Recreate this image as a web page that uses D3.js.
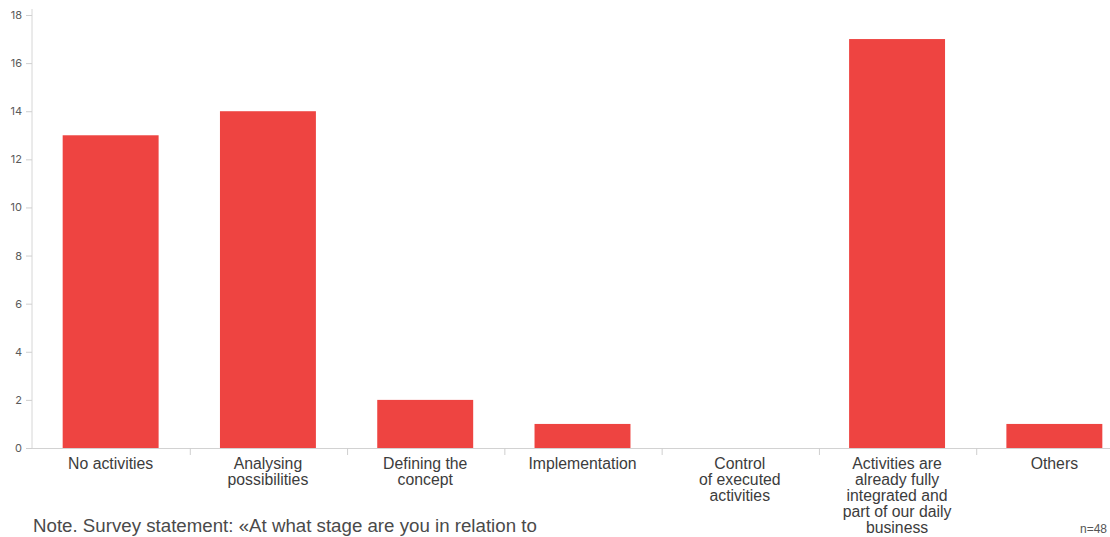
<!DOCTYPE html>
<html>
<head>
<meta charset="utf-8">
<script src="https://cdn.jsdelivr.net/npm/d3@7"></script>
<style>
  html, body { margin: 0; padding: 0; background: #fff; overflow: hidden; }
  svg { display: block; font-family: "Liberation Sans", Arial, sans-serif; }
</style>
</head>
<body>
<svg id="chart" width="1110" height="537"></svg>
<script>
// Survey responses per stage
const categories = [
  ["No activities"],
  ["Analysing", "possibilities"],
  ["Defining the", "concept"],
  ["Implementation"],
  ["Control", "of executed", "activities"],
  ["Activities are", "already fully", "integrated and", "part of our daily", "business"],
  ["Others"]
];
const counts = [13, 14, 2, 1, 0, 17, 1];
const yTicks = [0, 2, 4, 6, 8, 10, 12, 14, 16, 18];
const noteText = "Note. Survey statement: «At what stage are you in relation to";
const sampleText = "n=48";

const svg = d3.select("#chart");
const W = 1110, H = 537;
const x0 = 32, yBase = 448, yTop = 15;

const x = d3.scaleBand()
  .domain(d3.range(categories.length))
  .range([x0, 1133])
  .paddingInner(0.39)
  .paddingOuter(0.195);

const y = d3.scaleLinear().domain([0, 18]).range([yBase, yTop]);

// y axis
const yAxis = svg.append("g")
  .attr("transform", `translate(${x0},0)`)
  .call(d3.axisLeft(y).tickValues(yTicks).tickSize(6).tickPadding(4));
yAxis.select(".domain").attr("stroke", "#d6d6d6").attr("d", `M0,${yTop - 6}V${yBase}`);
yAxis.selectAll(".tick line").attr("stroke", "#cfcfcf");
yAxis.selectAll(".tick text")
  .attr("fill", "#5a5a5a")
  .style("font-size", "11px")
  .style("font-family", "Inter, 'Liberation Sans', sans-serif");

// bars
svg.append("g").selectAll("rect")
  .data(counts)
  .join("rect")
  .attr("x", (d, i) => x(i))
  .attr("y", d => y(d))
  .attr("width", x.bandwidth())
  .attr("height", d => yBase - y(d))
  .attr("fill", "#ee4441");

// x axis baseline
svg.append("line")
  .attr("x1", x0).attr("x2", W)
  .attr("y1", yBase + 0.5).attr("y2", yBase + 0.5)
  .attr("stroke", "#d2d2d2");

// separators between categories
const seps = d3.range(1, categories.length).map(i => (x(i - 1) + x.bandwidth() + x(i)) / 2 + 1);
svg.append("g").selectAll("line")
  .data(seps)
  .join("line")
  .attr("x1", d => d).attr("x2", d => d)
  .attr("y1", yBase).attr("y2", yBase + 7)
  .attr("stroke", "#cfcfcf");

// category labels
const labels = svg.append("g")
  .selectAll("text")
  .data(categories)
  .join("text")
  .attr("x", (d, i) => x(i) + x.bandwidth() / 2)
  .attr("y", yBase + 21)
  .attr("text-anchor", "middle")
  .attr("fill", "#3c3c3c")
  .style("font-size", "15.8px");
labels.selectAll("tspan")
  .data(d => d)
  .join("tspan")
  .attr("x", function () { return d3.select(this.parentNode).attr("x"); })
  .attr("dy", (d, i) => i === 0 ? 0 : 16)
  .text(d => d);

// note and sample size
svg.append("text")
  .attr("x", 33).attr("y", 532)
  .attr("fill", "#4a4a4a")
  .style("font-size", "18.7px")
  .text(noteText);

svg.append("text")
  .attr("x", 1080).attr("y", 533)
  .attr("fill", "#555")
  .style("font-size", "12px")
  .text(sampleText);
</script>
</body>
</html>
